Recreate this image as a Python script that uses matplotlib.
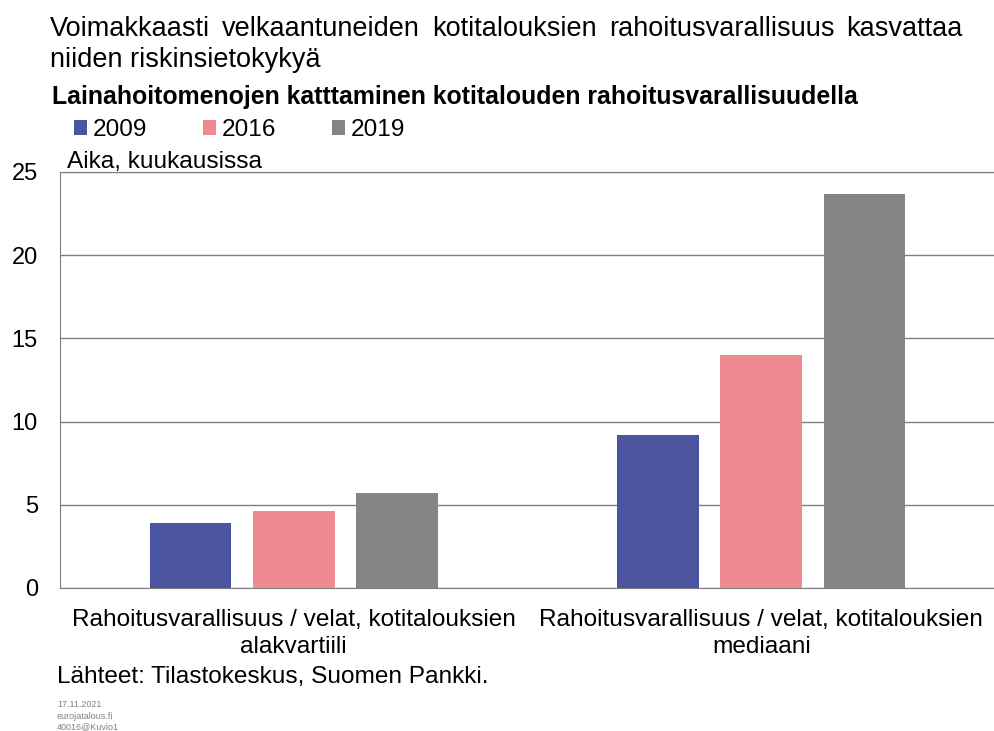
import numpy as np
import matplotlib
matplotlib.use("Agg")
from matplotlib import pyplot as plt

plt.rcParams['font.family'] = ['Liberation Sans', 'DejaVu Sans']

title_line1 = "Voimakkaasti velkaantuneiden kotitalouksien rahoitusvarallisuus kasvattaa"
title_line2 = "niiden riskinsietokykyä"
subtitle = "Lainahoitomenojen katttaminen kotitalouden rahoitusvarallisuudella"
categories = ["Rahoitusvarallisuus / velat, kotitalouksien\nalakvartiili",
              "Rahoitusvarallisuus / velat, kotitalouksien\nmediaani"]
years = ["2009", "2016", "2019"]
v2009 = [3.9, 9.2]
v2016 = [4.6, 14.0]
v2019 = [5.7, 23.7]
colors = ["#4b54a0", "#ef8a93", "#858585"]
yticks = [0, 5, 10, 15, 20, 25]

fs = 17.6

fig = plt.figure(figsize=(9.95, 7.31), dpi=100)
ax = fig.add_axes([60/995, 1-588/731, 1-60/995, (588-172)/731])

x = np.arange(len(categories))
w = 0.175
step = 0.221
series = [v2009, v2016, v2019]
for i, vals in enumerate(series):
    ax.bar(x + (i-1)*step, vals, w, color=colors[i], label=years[i], zorder=3)

ax.set_xlim(-0.5, 1.5)
ax.set_ylim(0, 25)
ax.set_yticks(yticks)
ax.set_yticklabels([str(t) for t in yticks], fontsize=17)
ax.set_xticks(x)
ax.set_xticklabels(categories, fontsize=fs, linespacing=1.3)
ax.tick_params(axis='both', length=0)
ax.tick_params(axis='y', pad=16)
ax.tick_params(axis='x', pad=15)
ax.grid(axis='y', color='#7f7f7f', lw=1, zorder=0)
for s in ['left', 'bottom', 'top']:
    ax.spines[s].set_color('#7f7f7f')
ax.spines['right'].set_visible(False)

# title, first line justified like in the original
fig.canvas.draw()
r = fig.canvas.get_renderer()
words = title_line1.split()
x0, x1 = 50, 963
ws = []
for wd in words:
    t = fig.text(0, 0, wd, fontsize=19.5)
    ws.append(t.get_window_extent(r).width)
    t.remove()
gap = (x1 - x0 - sum(ws)) / (len(words) - 1)
xp = x0
for wd, ww in zip(words, ws):
    fig.text(xp/995, 1-36/731, wd, fontsize=19.5, va='baseline')
    xp += ww + gap
fig.text(50/995, 1-67/731, title_line2, fontsize=19.5, va='baseline')
fig.text(52/995, 1-104/731, subtitle, fontsize=17.9, fontweight='bold', va='baseline')

ax.legend(loc='center left', bbox_to_anchor=(74/995, 1-130/731), bbox_transform=fig.transFigure,
          ncol=3, frameon=False, fontsize=fs, handlelength=0.55, handleheight=0.55,
          handletextpad=0.2, columnspacing=2.3, borderaxespad=0, borderpad=0)

fig.text(67/995, 1-168/731, "Aika, kuukausissa", fontsize=fs, va='baseline')
fig.text(57/995, 1-683/731, "Lähteet: Tilastokeskus, Suomen Pankki.", fontsize=fs, va='baseline')
fig.text(57/995, 1-707/731, "17.11.2021", fontsize=6.5, color='#808080', va='baseline')
fig.text(57/995, 1-719/731, "eurojatalous.fi", fontsize=6.5, color='#808080', va='baseline')
fig.text(57/995, 1-729/731, "40016@Kuvio1", fontsize=6.5, color='#808080', va='baseline')

fig.savefig("out.png", dpi=100)
